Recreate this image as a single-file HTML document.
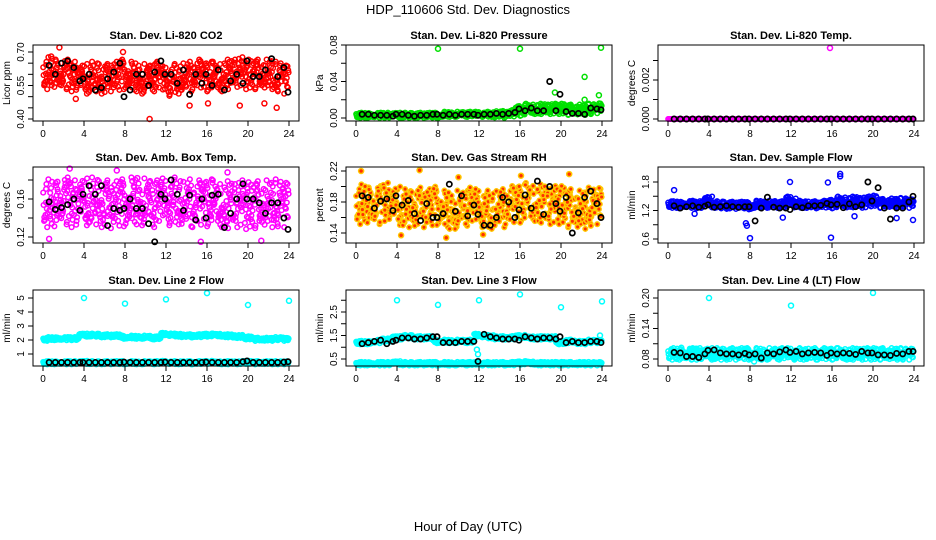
<!DOCTYPE html>
<html><head><meta charset="utf-8"><style>
body{margin:0;background:#fff;}
svg{display:block;font-family:"Liberation Sans",sans-serif;}
</style></head><body>
<svg id="chart" width="936" height="540">
<text x="468" y="14" font-size="13" text-anchor="middle">HDP_110606  Std. Dev. Diagnostics</text>
<text x="468" y="531" font-size="13" text-anchor="middle">Hour of Day (UTC)</text>
</svg>
<script>
var xTicks=[0,4,8,12,16,20,24];
var cloudHours=[0,1,2,3,4,5,6,7,8,9,10,11,12,13,14,15,16,17,18,19,20,21,22,23,24];
var blackHours=[0.6,1.2,1.8,2.4,3.0,3.6,3.9,4.5,5.1,5.7,6.3,6.9,7.5,7.9,8.5,9.1,9.7,10.3,10.9,11.5,11.9,12.5,13.1,13.7,14.3,14.9,15.5,15.9,16.5,17.1,17.7,18.3,18.9,19.5,19.9,20.5,21.1,21.7,22.3,22.9,23.5,23.9];

var co2Mean=[0.60,0.61,0.60,0.59,0.58,0.59,0.58,0.59,0.60,0.59,0.58,0.59,0.57,0.58,0.59,0.60,0.59,0.59,0.60,0.61,0.60,0.60,0.60,0.59,0.58];
var co2Sd=[0.035,0.035,0.035,0.035,0.035,0.035,0.035,0.035,0.035,0.035,0.035,0.035,0.035,0.035,0.035,0.035,0.035,0.035,0.035,0.035,0.035,0.035,0.035,0.035,0.035];
var co2Black=[0.64,0.60,0.65,0.66,0.63,0.57,0.58,0.60,0.53,0.54,0.58,0.61,0.65,0.50,0.53,0.60,0.60,0.55,0.61,0.66,0.60,0.60,0.56,0.62,0.51,0.60,0.56,0.60,0.55,0.62,0.53,0.57,0.60,0.56,0.66,0.59,0.59,0.62,0.67,0.59,0.63,0.52];
var co2OutH=[1.6,7.8,0.8,14.3,16.1,19.2,21.6,22.8,3.2,10.4];
var co2OutV=[0.72,0.70,0.68,0.46,0.47,0.46,0.47,0.45,0.49,0.40];

var presMean=[0.003,0.003,0.003,0.003,0.003,0.003,0.003,0.003,0.003,0.004,0.004,0.004,0.004,0.004,0.004,0.005,0.008,0.010,0.010,0.010,0.010,0.009,0.009,0.010,0.011];
var presSd=[0.0015,0.0015,0.0015,0.0015,0.0015,0.0015,0.0015,0.0015,0.0015,0.0015,0.0015,0.0015,0.0015,0.0015,0.002,0.002,0.003,0.003,0.003,0.003,0.003,0.003,0.003,0.003,0.003];
var presBlack=[0.004,0.004,0.003,0.003,0.003,0.002,0.004,0.004,0.003,0.002,0.003,0.003,0.004,0.004,0.003,0.004,0.003,0.004,0.004,0.004,0.003,0.004,0.004,0.005,0.004,0.005,0.006,0.010,0.008,0.011,0.008,0.008,0.040,0.008,0.026,0.007,0.005,0.005,0.004,0.011,0.010,0.009];
var presOutH=[8.0,16.0,23.9,22.3,19.4,23.7,22.3];
var presOutV=[0.076,0.076,0.077,0.045,0.028,0.025,0.020];

var tempMean=[0,0,0,0,0,0,0,0,0,0,0,0,0,0,0,0,0,0,0,0,0,0,0,0,0];
var tempSd=[0,0,0,0,0,0,0,0,0,0,0,0,0,0,0,0,0,0,0,0,0,0,0,0,0];
var tempBlack=[0,0,0,0,0,0,0,0,0,0,0,0,0,0,0,0,0,0,0,0,0,0,0,0,0,0,0,0,0,0,0,0,0,0,0,0,0,0,0,0,0,0];
var tempOutH=[15.8];
var tempOutV=[0.00364];

var ambMean=[0.155,0.156,0.158,0.155,0.157,0.158,0.155,0.154,0.156,0.158,0.157,0.155,0.157,0.158,0.156,0.155,0.156,0.155,0.154,0.155,0.153,0.154,0.155,0.156,0.155];
var ambSd=[0.013,0.013,0.013,0.013,0.013,0.013,0.013,0.013,0.013,0.013,0.013,0.013,0.013,0.013,0.013,0.013,0.013,0.013,0.013,0.013,0.013,0.013,0.013,0.013,0.013];
var ambBlack=[0.157,0.149,0.151,0.154,0.160,0.148,0.165,0.174,0.165,0.174,0.132,0.150,0.148,0.150,0.160,0.150,0.150,0.134,0.115,0.165,0.160,0.180,0.165,0.148,0.164,0.138,0.160,0.140,0.164,0.165,0.130,0.145,0.160,0.176,0.160,0.160,0.156,0.145,0.156,0.156,0.140,0.128];
var ambOutH=[0.6,2.6,7.2,15.4,18.0,21.3,1.4,9.2];
var ambOutV=[0.118,0.192,0.190,0.115,0.188,0.116,0.178,0.182];

var rhMean=[0.176,0.178,0.176,0.180,0.175,0.172,0.174,0.172,0.175,0.170,0.170,0.174,0.172,0.170,0.172,0.176,0.178,0.180,0.178,0.176,0.176,0.172,0.170,0.174,0.176];
var rhSd=[0.013,0.013,0.013,0.013,0.013,0.013,0.013,0.013,0.013,0.013,0.013,0.013,0.013,0.013,0.013,0.013,0.013,0.013,0.013,0.013,0.013,0.013,0.013,0.013,0.013];
var rhBlack=[0.188,0.186,0.172,0.181,0.184,0.169,0.188,0.176,0.182,0.165,0.156,0.178,0.160,0.160,0.165,0.203,0.168,0.188,0.162,0.176,0.164,0.150,0.150,0.160,0.186,0.180,0.160,0.170,0.189,0.172,0.207,0.164,0.200,0.178,0.168,0.186,0.140,0.166,0.186,0.194,0.178,0.160];
var rhOutH=[0.5,6.2,8.8,10.0,16.1,20.8,4.4,12.4];
var rhOutV=[0.220,0.221,0.134,0.212,0.214,0.216,0.137,0.138];

var sampleMean=[1.33,1.32,1.33,1.32,1.38,1.32,1.31,1.31,1.30,1.33,1.33,1.32,1.38,1.33,1.32,1.33,1.34,1.38,1.38,1.37,1.40,1.35,1.36,1.37,1.35];
var sampleSd=[0.04,0.04,0.04,0.04,0.06,0.04,0.04,0.04,0.04,0.04,0.04,0.04,0.06,0.04,0.04,0.04,0.05,0.06,0.06,0.06,0.06,0.05,0.05,0.05,0.05];
var sampleBlack=[1.30,1.25,1.28,1.30,1.27,1.29,1.32,1.27,1.28,1.30,1.28,1.27,1.28,1.28,0.98,1.25,1.48,1.27,1.25,1.25,1.22,1.28,1.26,1.30,1.30,1.31,1.35,1.32,1.33,1.26,1.34,1.28,1.32,1.80,1.40,1.68,1.25,1.02,1.25,1.25,1.38,1.50];
var sampleOutH=[0.6,2.6,7.6,7.7,8.0,11.2,15.9,16.8,16.8,15.6,18.2,22.3,23.9,11.9];
var sampleOutV=[1.63,1.13,0.93,0.88,0.62,1.05,0.63,1.97,1.92,1.79,1.08,1.04,1.00,1.80];

var line2Upper=[2.05,2.10,2.10,2.10,2.35,2.35,2.30,2.30,2.20,2.20,2.20,2.15,2.40,2.35,2.30,2.30,2.35,2.35,2.30,2.25,2.15,2.05,2.05,2.10,2.05];
var line2Lower=[0.38,0.38,0.38,0.38,0.40,0.38,0.38,0.38,0.38,0.38,0.38,0.38,0.40,0.38,0.38,0.38,0.40,0.38,0.38,0.38,0.40,0.38,0.38,0.38,0.38];
var line2Sd=[0.06,0.06,0.06,0.06,0.06,0.06,0.06,0.06,0.06,0.06,0.06,0.06,0.06,0.06,0.06,0.06,0.06,0.06,0.06,0.06,0.06,0.06,0.06,0.06,0.06];
var line2Black=[0.40,0.40,0.40,0.40,0.40,0.40,0.40,0.40,0.40,0.40,0.40,0.40,0.40,0.42,0.40,0.40,0.40,0.40,0.40,0.40,0.42,0.40,0.40,0.40,0.40,0.40,0.40,0.42,0.40,0.40,0.40,0.40,0.40,0.45,0.50,0.40,0.40,0.40,0.40,0.40,0.42,0.45];
var line2OutH=[4.0,8.0,12.0,16.0,20.0,24.0];
var line2OutV=[5.0,4.6,4.9,5.35,4.5,4.8];

var line3Upper=[1.20,1.20,1.25,1.30,1.40,1.45,1.40,1.40,1.25,1.25,1.25,1.25,1.50,1.45,1.40,1.40,1.45,1.40,1.40,1.40,1.20,1.25,1.20,1.25,1.25];
var line3Lower=[0.30,0.30,0.30,0.30,0.33,0.30,0.30,0.30,0.30,0.30,0.30,0.30,0.30,0.30,0.30,0.30,0.33,0.33,0.30,0.30,0.30,0.30,0.30,0.30,0.30];
var line3Sd=[0.04,0.04,0.04,0.04,0.04,0.04,0.04,0.04,0.04,0.04,0.04,0.04,0.04,0.04,0.04,0.04,0.04,0.04,0.04,0.04,0.04,0.04,0.04,0.04,0.04];
var line3Black=[1.15,1.20,1.25,1.30,1.15,1.25,1.30,1.40,1.40,1.35,1.35,1.40,1.45,1.45,1.20,1.20,1.20,1.25,1.25,1.25,0.40,1.55,1.45,1.40,1.35,1.35,1.35,1.30,1.45,1.40,1.35,1.40,1.40,1.35,1.45,1.20,1.25,1.20,1.20,1.25,1.25,1.20];
var line3OutH=[4.0,8.0,12.0,16.0,20.0,24.0,11.8,11.9,23.8];
var line3OutV=[3.0,2.8,3.0,3.25,2.7,2.95,0.9,0.7,1.5];

var line4Mean=[0.090,0.090,0.090,0.090,0.090,0.090,0.090,0.090,0.090,0.090,0.090,0.090,0.090,0.090,0.090,0.090,0.090,0.090,0.090,0.090,0.090,0.090,0.090,0.090,0.090];
var line4Sd=[0.006,0.006,0.006,0.006,0.006,0.006,0.006,0.006,0.006,0.006,0.006,0.006,0.006,0.006,0.006,0.006,0.006,0.006,0.006,0.006,0.006,0.006,0.006,0.006,0.006];
var line4Black=[0.093,0.092,0.085,0.085,0.083,0.090,0.097,0.098,0.092,0.090,0.090,0.088,0.091,0.088,0.090,0.082,0.092,0.090,0.094,0.098,0.093,0.095,0.090,0.092,0.093,0.092,0.087,0.092,0.090,0.092,0.091,0.089,0.095,0.092,0.092,0.088,0.088,0.087,0.091,0.090,0.095,0.095];
var line4OutH=[4.0,12.0,20.0,1.3,2.8,8.4];
var line4OutV=[0.20,0.185,0.21,0.102,0.100,0.075];

var panels=[
 {key:"co2",title:"Stan. Dev. Li-820 CO2",ylab:"Licor ppm",col:0,row:0,ref:[0.40,119,0.70,52],ticks:[0.40,0.45,0.50,0.55,0.60,0.65,0.70],labels:["0.40","0.55","0.70"],color:"#ff0000",clouds:[[co2Mean,co2Sd]],black:co2Black,oh:co2OutH,ov:co2OutV},
 {key:"pressure",title:"Stan. Dev. Li-820 Pressure",ylab:"kPa",col:1,row:0,ref:[0,118,0.08,45],ticks:[0,0.02,0.04,0.06,0.08],labels:["0.00","0.04","0.08"],color:"#00e000",clouds:[[presMean,presSd]],black:presBlack,oh:presOutH,ov:presOutV},
 {key:"temp",title:"Stan. Dev. Li-820 Temp.",ylab:"degrees C",col:2,row:0,ref:[0,119,0.002,80],ticks:[0,0.001,0.002,0.003],labels:["0.000","0.002"],color:"#ff00ff",clouds:[[tempMean,tempSd]],black:tempBlack,oh:tempOutH,ov:tempOutV},
 {key:"amb-temp",title:"Stan. Dev. Amb. Box Temp.",ylab:"degrees C",col:0,row:1,ref:[0.12,237,0.16,199],ticks:[0.12,0.14,0.16,0.18],labels:["0.12","0.16"],color:"#ff00ff",clouds:[[ambMean,ambSd]],black:ambBlack,oh:ambOutH,ov:ambOutV},
 {key:"gas-rh",title:"Stan. Dev. Gas Stream RH",ylab:"percent",col:1,row:1,ref:[0.14,233,0.22,171],ticks:[0.14,0.16,0.18,0.20,0.22],labels:["0.14","0.18","0.22"],color:"#ffc800",inner:"#ff3000",clouds:[[rhMean,rhSd]],black:rhBlack,oh:rhOutH,ov:rhOutV},
 {key:"sample-flow",title:"Stan. Dev. Sample Flow",ylab:"ml/min",col:2,row:1,ref:[0.6,239,1.8,182],ticks:[0.6,0.9,1.2,1.5,1.8],labels:["0.6","1.2","1.8"],color:"#0000ff",clouds:[[sampleMean,sampleSd]],black:sampleBlack,oh:sampleOutH,ov:sampleOutV},
 {key:"line2-flow",title:"Stan. Dev. Line 2 Flow",ylab:"ml/min",col:0,row:2,ref:[1,354,5,298],ticks:[1,2,3,4,5],labels:["1","2","3","4","5"],color:"#00ffff",clouds:[[line2Upper,line2Sd],[line2Lower,line2Sd]],black:line2Black,oh:line2OutH,ov:line2OutV},
 {key:"line3-flow",title:"Stan. Dev. Line 3 Flow",ylab:"ml/min",col:1,row:2,ref:[0.5,359,2.5,312],ticks:[0.5,1,1.5,2,2.5,3],labels:["0.5","1.5","2.5"],color:"#00ffff",clouds:[[line3Upper,line3Sd],[line3Lower,line3Sd]],black:line3Black,oh:line3OutH,ov:line3OutV},
 {key:"line4-flow",title:"Stan. Dev. Line 4 (LT) Flow",ylab:"ml/min",col:2,row:2,ref:[0.08,359,0.20,298],ticks:[0.08,0.11,0.14,0.17,0.20],labels:["0.08","0.14","0.20"],color:"#00ffff",clouds:[[line4Mean,line4Sd]],black:line4Black,oh:line4OutH,ov:line4OutV}
];
var SVGNS="http://www.w3.org/2000/svg";
var root=document.getElementById("chart");
var colLeft=[33,346,658],rowTop=[45,167,290],BW=266,BH=76;
/* marker jitter pattern (styling only) */
var jx=[-0.42,0.13,-0.21,0.37,0.02,-0.33,0.28,-0.08,0.45,-0.15,0.19,-0.47,0.06,0.33,-0.27,0.41,-0.04,0.24,-0.38,0.11,-0.19,0.47,-0.11,0.30,-0.30];
var jk=[0.3,-1.1,1.4,-0.4,0.9,-1.7,0.1,1.9,-0.8,0.6,-1.3,1.1,-0.1,1.6,-0.6,-1.9,0.4,-0.9,1.7,-1.4,0.8,0.0,-0.3,1.2,-1.0];
function mk(tag,attrs,parent){
  var e=document.createElementNS(SVGNS,tag);
  for(var k in attrs){ e.setAttribute(k,String(attrs[k])); }
  (parent||root).appendChild(e);
  return e;
}
function drawPanel(p){
 var L=colLeft[p.col],T=rowTop[p.row];
 var xs=function(h){return L+10+h*246/24;};
 var ys=function(v){return p.ref[1]+(v-p.ref[0])*(p.ref[3]-p.ref[1])/(p.ref[2]-p.ref[0]);};
 var g=mk("g",{});
 
 
 var t=mk("text",{x:L+BW/2,y:T-6,"font-size":11,"font-weight":"bold","text-anchor":"middle"},g);
 t.textContent=p.title;
 
 
 var cg=mk("g",{fill:p.inner||"none",stroke:p.color,"stroke-width":1.5},g);
 
 
 for(var c=0;c<p.clouds.length;c++){
  var m=p.clouds[c][0],s=p.clouds[c][1];
  for(var i=0;i<cloudHours.length;i++){
   for(var a=0;a<jx.length;a++){
     var idx=(a+i*7)%jx.length;
     var hh=cloudHours[i]+jx[idx];
     if(hh<0||hh>24) continue;
     var cy=ys(m[i]+jk[(a+i*3)%jk.length]*s[i]);
     mk("circle",{cx:xs(hh).toFixed(1),cy:cy.toFixed(1),r:2.3},cg);
   }
  }
 }
 for(var o=0;o<p.oh.length;o++){
  var oc=mk("circle",{cx:xs(p.oh[o]).toFixed(1),cy:ys(p.ov[o]).toFixed(1),r:2.5},cg);
  
  
 }
 var bg=mk("g",{fill:"none",stroke:"#000","stroke-width":1.7},g);
 
 
 for(var j=0;j<blackHours.length&&j<p.black.length;j++){
  mk("circle",{cx:xs(blackHours[j]).toFixed(1),cy:ys(p.black[j]).toFixed(1),r:2.6},bg);
 }
 var box=mk("rect",{x:L,y:T,width:BW,height:BH,fill:"none",stroke:"#000","stroke-width":1},g);
 
 
 for(var q=0;q<xTicks.length;q++){
  var xv=xs(xTicks[q]);
  mk("line",{x1:xv,x2:xv,y1:T+BH,y2:T+BH+5,stroke:"#000"},g);
  var tl=mk("text",{x:xv,y:T+BH+16,"font-size":10,"text-anchor":"middle"},g);
  tl.textContent=String(xTicks[q]);
  
  
 }
 for(var r=0;r<p.ticks.length;r++){
  var yv=ys(p.ticks[r]);
  mk("line",{x1:L-5,x2:L,y1:yv,y2:yv,stroke:"#000"},g);
 }
 for(var u=0;u<p.labels.length;u++){
  var yy=ys(parseFloat(p.labels[u]));
  var yl=mk("text",{x:L-9,y:yy,"font-size":10,"text-anchor":"middle",transform:"rotate(-90 "+(L-9)+" "+yy+")"},g);
  yl.textContent=p.labels[u];
  
  
 }
 var yt=mk("text",{x:L-23,y:T+BH/2,"font-size":10,"text-anchor":"middle",transform:"rotate(-90 "+(L-23)+" "+(T+BH/2)+")"},g);
 yt.textContent=p.ylab;
 
 
}
for(var pi=0;pi<panels.length;pi++){
 try{ drawPanel(panels[pi]); }catch(err){}
}
</script>
</body></html>
